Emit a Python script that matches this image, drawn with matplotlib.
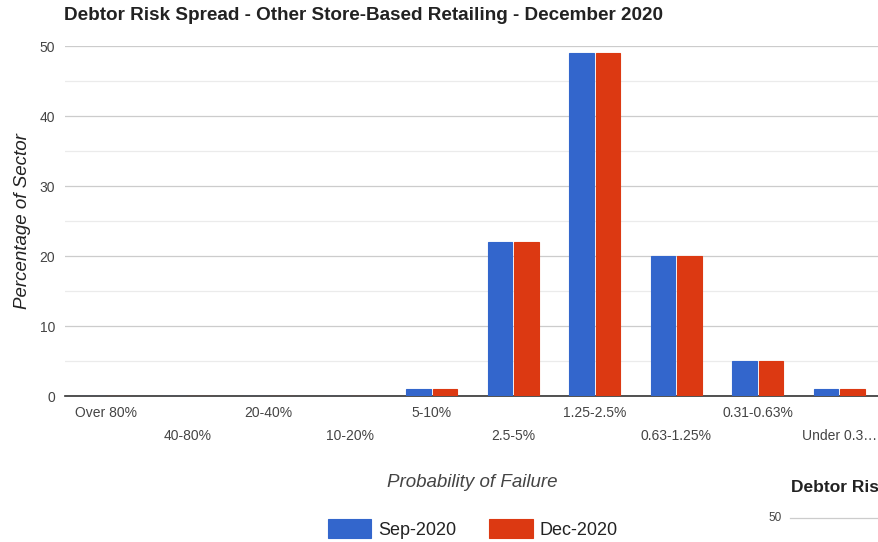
import matplotlib.pyplot as plt
import numpy as np
from matplotlib.lines import Line2D

categories = ["Over 80%", "40-80%", "20-40%", "10-20%", "5-10%",
              "2.5-5%", "1.25-2.5%", "0.63-1.25%", "0.31-0.63%", "Under 0.3\u2026"]
sep_2020 = [0, 0, 0, 0, 1, 22, 49, 20, 5, 1]
dec_2020 = [0, 0, 0, 0, 1, 22, 49, 20, 5, 1]
series_names = ["Sep-2020", "Dec-2020"]
colors = ["#3366cc", "#dc3912"]

plt.rcParams["font.family"] = ["Liberation Sans", "DejaVu Sans"]

fig = plt.figure(figsize=(8.79, 5.42), dpi=100)
ax = fig.add_axes([65 / 879, 146 / 542, 815 / 879, 350 / 542])

x = np.arange(len(categories))
w = 0.3
for i, (vals, c) in enumerate(zip([sep_2020, dec_2020], colors)):
    offs = (i - 0.5) * (w + 0.02)
    ax.bar(x + offs, vals, width=w, color=c, edgecolor=c, linewidth=0.8,
           label=series_names[i], zorder=5)

ax.set_xlim(-0.5, len(categories) - 0.5)
ax.set_ylim(0, 50)
ax.set_yticks(range(0, 51, 10))
ax.set_yticks(range(5, 50, 10), minor=True)
ax.grid(axis="y", which="major", color="#cccccc", linewidth=0.9, zorder=0)
ax.grid(axis="y", which="minor", color="#ebebeb", linewidth=0.9, zorder=0)
ax.tick_params(axis="y", which="both", length=0, pad=7, labelsize=10, labelcolor="#444444")
ax.tick_params(axis="x", length=0, labelsize=10, labelcolor="#444444")
for s in ["top", "right", "left"]:
    ax.spines[s].set_visible(False)
ax.spines["bottom"].set_color("#333333")
ax.spines["bottom"].set_linewidth(1.2)
ax.spines["bottom"].set_zorder(4)

ax.set_xticks(x)
ax.set_xticklabels(categories)
for k, tick in enumerate(ax.xaxis.get_major_ticks()):
    tick.set_pad(7 if k % 2 == 0 else 24)

ax.set_ylabel("Percentage of Sector", fontsize=13.5, style="italic", color="#222222", labelpad=6)
ax.set_xlabel("Probability of Failure", fontsize=13.5, style="italic", color="#444444", labelpad=22)

fig.text(64 / 879, 1 - 16 / 542, "Debtor Risk Spread - Other Store-Based Retailing - December 2020",
         fontsize=13.6, fontweight="bold", color="#222222", va="center", ha="left")

leg = fig.legend(loc="center", bbox_to_anchor=(473 / 879, 1 - 529 / 542), ncol=2, frameon=False,
                 fontsize=13, handlelength=2.4, handleheight=1.25, columnspacing=1.8,
                 handletextpad=0.4)
for t in leg.get_texts():
    t.set_color("#222222")

# partial neighbouring chart at bottom right
fig.text(791 / 879, 1 - 488 / 542, "Debtor Ris", fontsize=12.5, fontweight="bold",
         color="#222222", va="center", ha="left")
fig.text(782 / 879, 1 - 518 / 542, "50", fontsize=8.5, color="#444444", va="center", ha="right")
fig.add_artist(Line2D([790 / 879, 1.0], [1 - 518 / 542, 1 - 518 / 542], color="#cccccc",
                      linewidth=0.9, transform=fig.transFigure))

fig.savefig("out.png", dpi=100)
